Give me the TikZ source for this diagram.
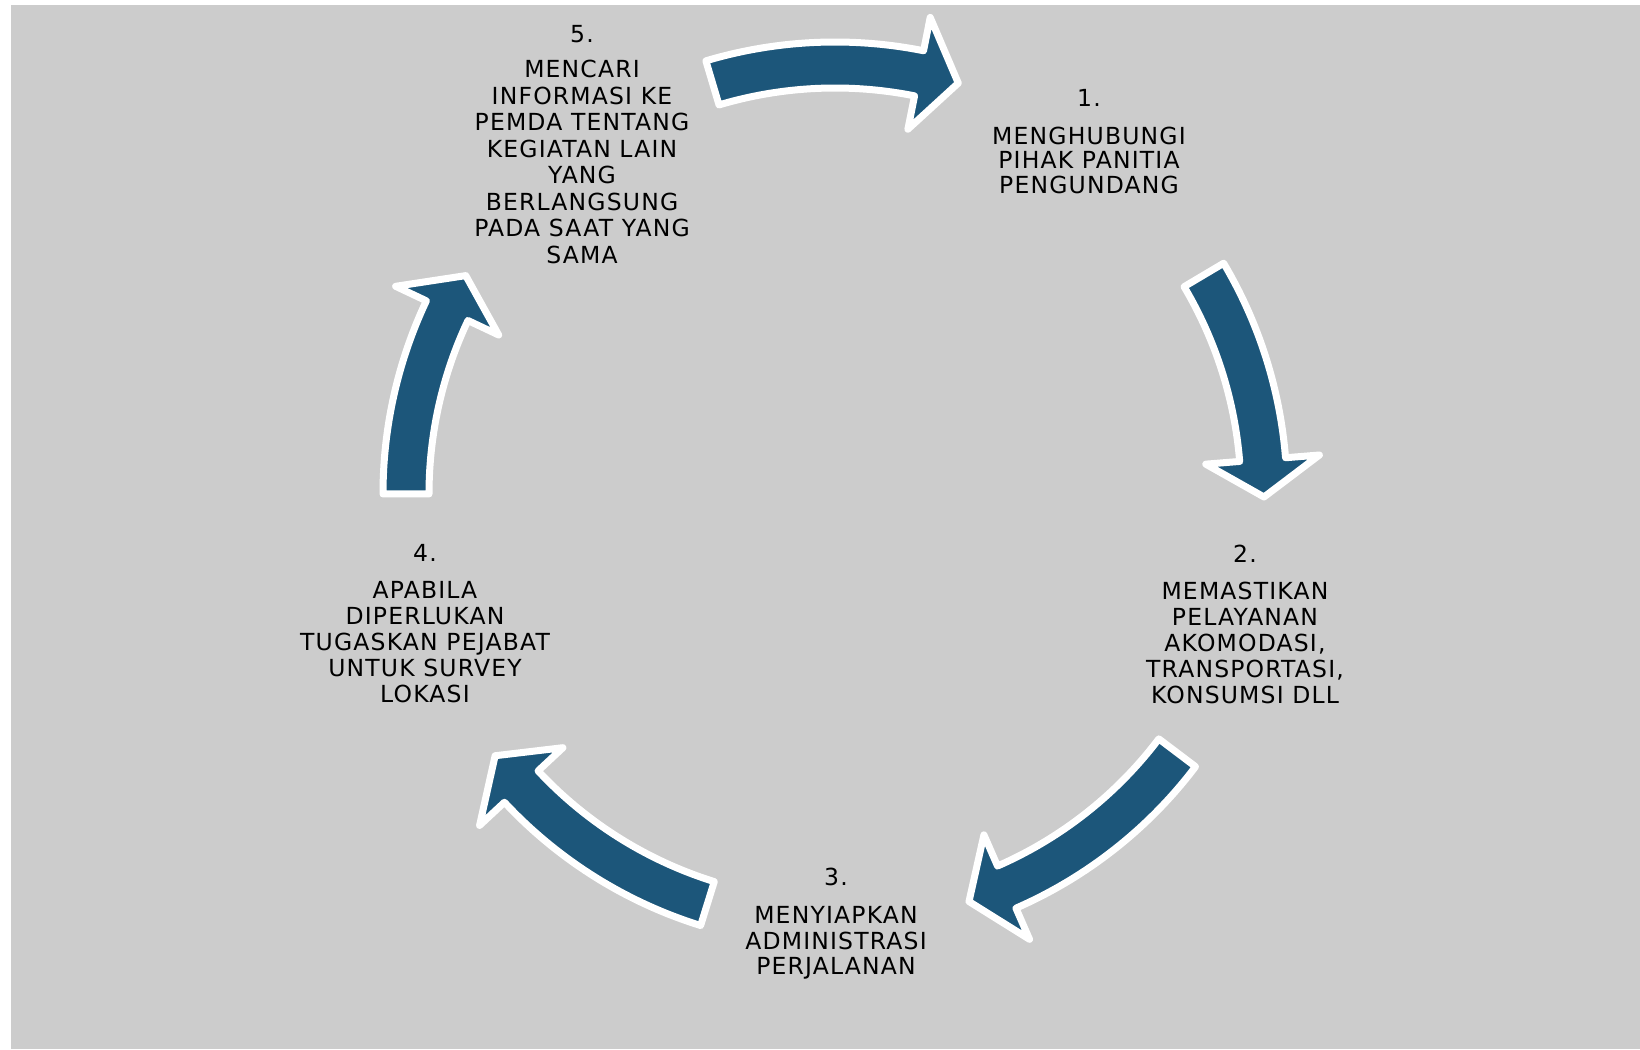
\documentclass[tikz,border=0pt]{standalone}
\usepackage{fontspec}
\setmainfont{DejaVu Sans}[LetterSpace=5]
\usetikzlibrary{calc}
\definecolor{arrowblue}{RGB}{28,86,122}
\definecolor{bggray}{RGB}{204,204,204}
\newcommand{\cycarrow}[3]{%
  \path[cycarrowstyle] ($(C)+(#1:452)$) arc[start angle=#1, end angle=#2, radius=452]
    -- ($(C)+(#2:486)$) -- ($(C)+(#3:429)$) -- ($(C)+(#2:372)$)
    -- ($(C)+(#2:406)$) arc[start angle=#2, end angle=#1, radius=406] -- cycle;}
\begin{document}
\begin{tikzpicture}[x=1pt,y=1pt,
  cycarrowstyle/.style={fill=arrowblue, draw=white, line width=7pt, line join=round},
  steptext/.style={align=center, inner sep=0pt, anchor=north, text=black,
    font=\fontsize{23.5}{#1}\selectfont},
  steptext/.default=25.8]
\useasboundingbox (0,0) rectangle (1640,1049);
\fill[bggray] (11,0) rectangle (1640,1044);
\coordinate (C) at (835,555);
% arrows: tail angle, barb angle, tip angle
\cycarrow{106.6}{78.7}{73.3}
\cycarrow{30.7}{4.6}{-0.4}
\cycarrow{-37.1}{-66.4}{-71.8}
\cycarrow{252.7}{223.0}{217.6}
\cycarrow{180}{154.7}{149.4}
% step texts
\node[steptext=24.8] (s1) at (1089,960) {1.\\[13pt]MENGHUBUNGI\\PIHAK PANITIA\\PENGUNDANG};
\node[steptext=26] (s2) at (1245,504.4) {2.\\[11pt]MEMASTIKAN\\PELAYANAN\\AKOMODASI,\\TRANSPORTASI,\\KONSUMSI DLL};
\node[steptext=25.2] (s3) at (836,181) {3.\\[13pt]MENYIAPKAN\\ADMINISTRASI\\PERJALANAN};
\node[steptext=26] (s4) at (425,504.4) {4.\\[11pt]APABILA\\DIPERLUKAN\\TUGASKAN PEJABAT\\UNTUK SURVEY\\LOKASI};
\node[steptext=26.5] (s5) at (582,1024) {5.\\[9pt]MENCARI\\INFORMASI KE\\PEMDA TENTANG\\KEGIATAN LAIN\\YANG\\BERLANGSUNG\\PADA SAAT YANG\\SAMA};
\end{tikzpicture}
\end{document}
